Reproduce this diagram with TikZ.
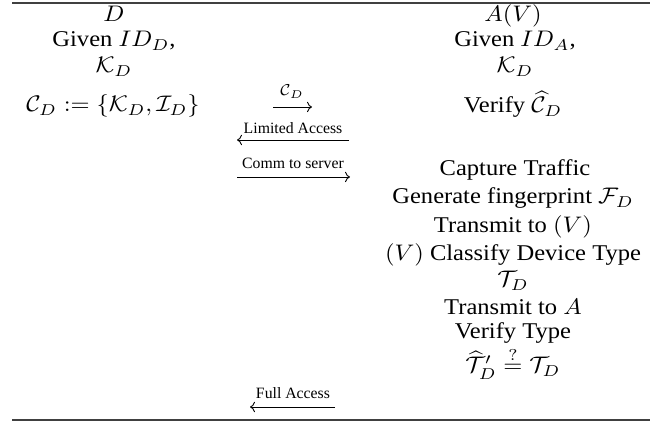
\documentclass[tikz,border=0pt]{standalone}
\usepackage[no-math]{fontspec}
\usepackage{graphicx}
\setmainfont{Liberation Serif}
\usetikzlibrary{arrows.meta}
\newcommand{\wx}[1]{\scalebox{1.09}[1]{#1}}
\begin{document}
\begin{tikzpicture}[x=0.444pt,y=-0.444pt,
  txt/.style={anchor=base,inner sep=0pt,font=\fontsize{10}{12}\selectfont},
  lbl/.style={anchor=base,inner sep=0pt,font=\scriptsize},
  msg/.style={line width=0.4pt,-{To[length=2.2pt,width=4.6pt]}},
  rulestyle/.style={line width=0.6pt,black!75}]
\useasboundingbox (0,0) rectangle (661,424);
% rules
\coordinate (tl) at (12,3); \coordinate (tr) at (650,3);
\coordinate (bl) at (12,420); \coordinate (br) at (650,420);
\draw[rulestyle] (tl) -- (tr);
\draw[rulestyle] (bl) -- (br);
% left column
\node[txt] (d1) at (114,22) {\wx{$D$}};
\node[txt] (d2) at (114,47) {\wx{Given $ID_D$,}};
\node[txt] (d3) at (114,73) {\wx{$\mathcal{K}_D$}};
\node[txt] (d4) at (113,112) {\wx{$\mathcal{C}_D := \{\mathcal{K}_D, \mathcal{I}_D\}$}};
% right column
\node[txt] (a1) at (513,22) {\wx{$A(V)$}};
\node[txt] (a2) at (515,47) {\wx{Given $ID_A$,}};
\node[txt] (a3) at (515,73) {\wx{$\mathcal{K}_D$}};
\node[txt] (a4) at (513,113) {\wx{Verify $\widehat{\mathcal{C}}_D$}};
\node[txt] (a5) at (515,176) {\wx{Capture Traffic}};
\node[txt] (a6) at (513,204) {\wx{Generate fingerprint $\mathcal{F}_D$}};
\node[txt] (a7) at (513,233) {\wx{Transmit to $(V)$}};
\node[txt] (a8) at (513,261) {\wx{$(V)$ Classify Device Type}};
\node[txt] (a9) at (513,287) {\wx{$\mathcal{T}_D$}};
\node[txt] (a10) at (513,315) {\wx{Transmit to $A$}};
\node[txt] (a11) at (513,339) {\wx{Verify Type}};
\node[txt] (a12) at (513,373) {\wx{$\widehat{\mathcal{T}}'_D \stackrel{?}{=} \mathcal{T}_D$}};
% messages
\coordinate (m1s) at (273,107); \coordinate (m1e) at (312,107);
\draw[msg] (m1s) -- (m1e);
\node[lbl] (l1) at (292,96) {$\mathcal{C}_D$};
\coordinate (m2s) at (349,140); \coordinate (m2e) at (237,140);
\draw[msg] (m2s) -- (m2e);
\node[lbl] (l2) at (293,134) {Limited Access};
\coordinate (m3s) at (237,177); \coordinate (m3e) at (350,177);
\draw[msg] (m3s) -- (m3e);
\node[lbl] (l3) at (293,169) {Comm to server};
\coordinate (m4s) at (335,407); \coordinate (m4e) at (250,407);
\draw[msg] (m4s) -- (m4e);
\node[lbl] (l4) at (293,399) {Full Access};
\end{tikzpicture}
\end{document}
